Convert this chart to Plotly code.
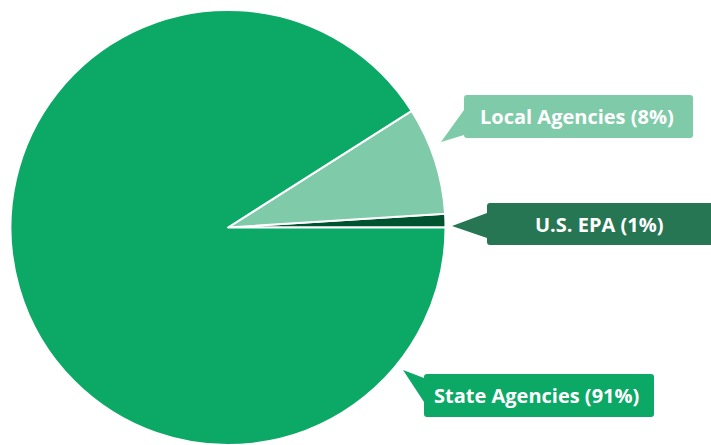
import plotly.graph_objects as go

# ---- data ----
categories = ["U.S. EPA", "Local Agencies", "State Agencies"]
values = [1, 8, 91]
slice_colors = ["#00532f", "#7fcaa9", "#0ba866"]
box_colors = ["#267553", "#7fcaa9", "#0ba866"]
labels = [f"{c} ({v}%)" for c, v in zip(categories, values)]

W, H = 711, 445
ML, MR, MT, MB = 0, 0, 10, 0
PW, PH = W - ML - MR, H - MT - MB


def px(x):
    return (x - ML) / PW


def py(y):
    return (H - MB - y) / PH


# callout geometry in pixels: box (x0, y0, x1, y1), pointer triangle (base top y, base bottom y, tip)
callouts = [
    dict(box=(487, 203, 716, 245), base=(213, 238), tip=(452, 226), tx=599),
    dict(box=(464, 95, 693, 138), base=(110, 135), tip=(441, 142), tx=577),
    dict(box=(424, 374, 654, 417), base=(378, 402), tip=(403, 370), tx=536),
]

fig = go.Figure(
    go.Pie(
        labels=categories,
        values=values,
        sort=False,
        direction="counterclockwise",
        rotation=90 - 360 * values[0] / sum(values),
        marker=dict(colors=slice_colors, line=dict(color="white", width=2)),
        textinfo="none",
        hoverinfo="label+percent",
        domain=dict(x=[px(10.5), px(445.5)], y=[0, 1]),
        showlegend=False,
    )
)

shapes = []
annotations = []
r = 3
for c, lab, col in zip(callouts, labels, box_colors):
    x0, y0, x1, y1 = c["box"]
    b0, b1 = c["base"]
    tx, ty = c["tip"]
    path = (
        f"M {px(x0 + r)},{py(y0)} L {px(x1 - r)},{py(y0)} "
        f"Q {px(x1)},{py(y0)} {px(x1)},{py(y0 + r)} "
        f"L {px(x1)},{py(y1 - r)} Q {px(x1)},{py(y1)} {px(x1 - r)},{py(y1)} "
        f"L {px(x0 + r)},{py(y1)} Q {px(x0)},{py(y1)} {px(x0)},{py(y1 - r)} "
        f"L {px(x0)},{py(b1)} L {px(tx)},{py(ty)} L {px(x0)},{py(b0)} "
        f"L {px(x0)},{py(y0 + r)} Q {px(x0)},{py(y0)} {px(x0 + r)},{py(y0)} Z"
    )
    shapes.append(dict(type="path", path=path, xref="paper", yref="paper",
                       fillcolor=col, line=dict(width=0), layer="above"))
    annotations.append(dict(
        text=f"<b>{lab}</b>", x=px(c["tx"]), y=py((y0 + y1) / 2),
        xref="paper", yref="paper", showarrow=False,
        xanchor="center", yanchor="middle",
        font=dict(family="Open Sans", size=20, color="white"),
    ))

fig.update_layout(
    width=W, height=H,
    margin=dict(l=ML, r=MR, t=MT, b=MB),
    paper_bgcolor="white", plot_bgcolor="white",
    shapes=shapes, annotations=annotations,
)

fig.write_html("out.html", config={"displayModeBar": False},
               post_script="document.body.style.margin='0px';")
